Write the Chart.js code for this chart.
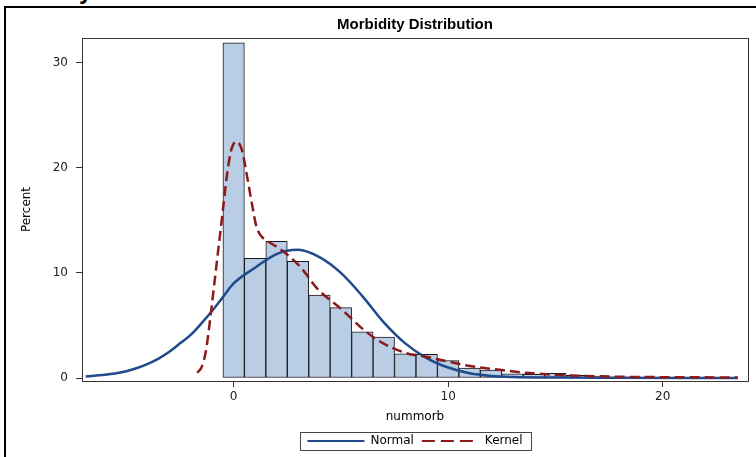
<!DOCTYPE html>
<html>
<head>
<meta charset="utf-8">
<script src="https://cdn.jsdelivr.net/npm/chart.js@4/dist/chart.umd.min.js"></script>
<style>
  body { margin: 0; background: #fff; overflow: hidden; }
  #wrap { position: relative; width: 756px; height: 457px; overflow: hidden; }
  #frame { position: absolute; left: 4px; top: 6px; width: 800px; height: 500px; border-left: 2px solid #000; border-top: 2px solid #000; pointer-events: none; }
  #cut { position: absolute; left: 79px; top: -21px; font: bold 24px "Liberation Sans", Arial, sans-serif; line-height: 24px; color: #000; }
  canvas { position: absolute; left: 0; top: 0; }
</style>
</head>
<body>
<div id="wrap">
  <div id="cut">y</div>
  <div id="frame"></div>
  <canvas id="canvas" width="756" height="457"></canvas>
</div>
<script>
// histogram bins (bin midpoints) and their percent heights
var binMid = [0, 1, 2, 3, 4, 5, 6, 7, 8, 9, 10, 11, 12, 13, 14, 15, 16, 17, 18, 19]
var binPct = [31.9, 11.4, 13.0, 11.1, 7.9, 6.7, 4.4, 3.9, 2.3, 2.25, 1.65, 0.95, 0.75, 0.4, 0.35, 0.45, 0.25, 0.15, 0.1, 0.05]

// normal curve
var normalX = [-6.9, -6, -5, -4.5, -4, -3.5, -3, -2.5, -2, -1.5, -1, -0.5, 0, 1, 2, 3, 4, 5, 6, 7, 8, 9, 10, 11, 12, 13, 15, 18, 21, 23.5]
var normalY = [0.15, 0.3, 0.65, 0.95, 1.35, 1.85, 2.5, 3.3, 4.1, 5.2, 6.4, 7.7, 9.0, 10.5, 11.8, 12.2, 11.5, 10.0, 7.8, 5.3, 3.3, 1.9, 1.0, 0.45, 0.2, 0.1, 0.04, 0.02, 0.01, 0.01]

// kernel density curve
var kernelX = [-1.7, -1.5, -1.3, -1.1, -0.9, -0.7, -0.5, -0.3, -0.1, 0.15, 0.4, 0.6, 0.85, 1.05, 1.25, 1.6, 2.15, 3.1, 3.9, 5, 6, 6.8, 8, 9.3, 10.7, 12.3, 13.8, 15.7, 18, 20, 23.5]
var kernelY = [0.5, 1.0, 2.5, 5.5, 9.0, 12.5, 16.0, 19.5, 21.8, 22.5, 21.6, 19.5, 16.6, 14.5, 13.6, 13.0, 12.3, 10.6, 8.5, 6.6, 4.7, 3.5, 2.4, 1.9, 1.26, 0.8, 0.47, 0.25, 0.12, 0.08, 0.05]

var xTicks = [0, 10, 20]
var yTicks = [0, 10, 20, 30]

function pairs(xs, ys) {
    var out = []
    for (var i = 0; i < xs.length; i++) out.push({ x: xs[i], y: ys[i] })
    return out
}

var tickFont = { family: 'DejaVu Sans', size: 12 }

// box around the plot area and around the legend
var boxes = {
    id: 'boxes',
    afterDatasetsDraw: function (chart) {
        var a = chart.chartArea, ctx = chart.ctx
        ctx.save()
        ctx.strokeStyle = '#333'
        ctx.lineWidth = 1
        ctx.strokeRect(Math.round(a.left) + 0.5, Math.round(a.top) + 0.5, Math.round(a.right - a.left), Math.round(a.bottom - a.top))
        ctx.restore()
    },
    afterDraw: function (chart) {
        var hb = chart.legend.legendHitBoxes
        if (!hb || !hb.length) return
        var first = hb[0], last = hb[hb.length - 1]
        var ctx = chart.ctx
        ctx.save()
        ctx.strokeStyle = '#444'
        ctx.lineWidth = 1
        var l = Math.round(first.left - 7) + 0.5
        var t = Math.round(first.top - 3) + 0.5
        var r = Math.round(last.left + last.width + 8) + 0.5
        var b = Math.round(first.top + first.height + 3) + 0.5
        ctx.strokeRect(l, t, r - l, b - t)
        ctx.restore()
    }
}

var config = {
    type: 'bar',
    data: {
        datasets: [
            {
                type: 'line',
                label: 'Normal',
                data: pairs(normalX, normalY),
                borderColor: '#1f4a8c',
                borderWidth: 2.5,
                pointRadius: 0,
                cubicInterpolationMode: 'monotone',
                order: 1
            },
            {
                type: 'line',
                label: 'Kernel',
                data: pairs(kernelX, kernelY),
                borderColor: '#8c1a1a',
                borderWidth: 2.5,
                borderDash: [10, 5],
                pointRadius: 0,
                cubicInterpolationMode: 'monotone',
                order: 0
            },
            {
                type: 'bar',
                label: 'Percent',
                data: pairs(binMid, binPct),
                backgroundColor: '#b9cde5',
                borderColor: '#1a1a1a',
                borderWidth: 1,
                borderSkipped: false,
                barPercentage: 1,
                categoryPercentage: 1,
                order: 5
            }
        ]
    },
    options: {
        responsive: false,
        animation: false,
        devicePixelRatio: 1,
        layout: { padding: { left: 0, right: 8, top: 0, bottom: 0 } },
        plugins: {
            tooltip: { enabled: false },
            title: {
                display: true,
                text: 'Morbidity Distribution',
                fullSize: false,
                color: '#000',
                font: { family: 'Liberation Sans', size: 15, weight: 'bold' },
                padding: { top: 16, bottom: 4 }
            },
            legend: {
                position: 'bottom',
                fullSize: false,
                labels: {
                    // the point style hides the dash pattern, so copy it from the dataset
                    generateLabels: function (chart) {
                        var items = Chart.defaults.plugins.legend.labels.generateLabels(chart)
                        items.forEach(function (it) {
                            var ds = chart.data.datasets[it.datasetIndex]
                            it.lineDash = ds.borderDash ? [13, 6] : []
                            it.lineWidth = 2
                            it.strokeStyle = ds.borderColor
                        })
                        return items
                    },
                    filter: function (item) { return item.text !== 'Percent' },
                    sort: function (a, b) { return a.datasetIndex - b.datasetIndex },
                    usePointStyle: true,
                    pointStyle: 'line',
                    pointStyleWidth: 57,
                    padding: 8,
                    color: '#000',
                    font: tickFont
                }
            }
        },
        scales: {
            x: {
                type: 'linear',
                min: -7.07,
                max: 23.98,
                offset: false,
                afterFit: function (s) { s.height = 46 },
                afterBuildTicks: function (s) { s.ticks = xTicks.map(function (v) { return { value: v } }) },
                ticks: { color: '#222', font: tickFont, padding: 3, maxRotation: 0 },
                grid: { offset: false, drawOnChartArea: false, tickLength: 6, color: '#333' },
                border: { display: false },
                title: { display: true, text: 'nummorb', color: '#000', font: tickFont, padding: { top: 0, bottom: 3 } }
            },
            y: {
                type: 'linear',
                min: -0.284,
                max: 32.36,
                afterFit: function (s) { s.width = 82 },
                afterBuildTicks: function (s) { s.ticks = yTicks.map(function (v) { return { value: v } }) },
                ticks: { color: '#222', font: tickFont, padding: 8 },
                grid: { drawOnChartArea: false, tickLength: 6, color: '#333' },
                border: { display: false },
                title: { display: true, text: 'Percent', color: '#000', font: tickFont, padding: { top: 20, bottom: 0 } }
            }
        }
    },
    plugins: [boxes]
}

var myChart = new Chart(document.getElementById('canvas').getContext('2d'), config)
</script>
</body>
</html>
